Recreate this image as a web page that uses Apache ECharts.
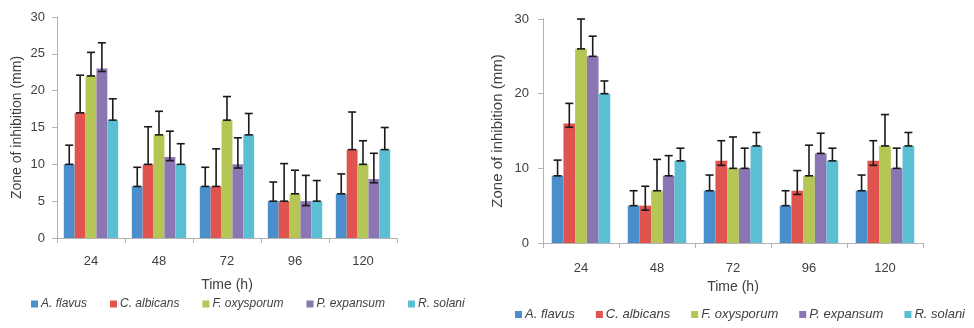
<!DOCTYPE html>
<html>
<head>
<meta charset="utf-8">
<script src="https://cdn.jsdelivr.net/npm/echarts@6/dist/echarts.min.js"></script>
<style>
  html, body { margin: 0; padding: 0; background: #fff; }
  #chart { width: 974px; height: 328px; }
</style>
</head>
<body>
<div id="chart"></div>
<script>
// time points
const categories = ['24', '48', '72', '96', '120'];
const species = ['A. flavus', 'C. albicans', 'F. oxysporum', 'P. expansum', 'R. solani'];
const colors = ['#4a8fcc', '#e0544f', '#b5c654', '#8b76b4', '#5bbfd4'];

// left panel: bar heights, error bar top and bottom (one row per species)
const leftValues = [
  [10, 7, 7, 5, 6],
  [17, 10, 7, 5, 12],
  [22, 14, 16, 6, 10],
  [23, 11, 10, 5, 8],
  [16, 10, 14, 5, 12],
];
const leftUpper = [
  [12.6, 9.6, 9.6, 7.6, 8.7],
  [22.1, 15.1, 12.1, 10.1, 17.1],
  [25.2, 17.2, 19.2, 9.2, 13.2],
  [26.5, 14.5, 13.6, 8.5, 11.5],
  [18.9, 12.8, 16.9, 7.8, 15.0],
];
const leftLower = [
  [10, 7, 7, 5, 6],
  [17, 10, 7, 5, 12],
  [22, 14, 16, 6, 10],
  [22.6, 10.5, 9.5, 4.4, 7.5],
  [16, 10, 14, 5, 12],
];

// right panel
const rightValues = [
  [9, 5, 7, 5, 7],
  [16, 5, 11, 7, 11],
  [26, 7, 10, 9, 13],
  [25, 9, 10, 12, 10],
  [20, 11, 13, 11, 13],
];
const rightUpper = [
  [11.1, 7.0, 9.1, 7.0, 9.1],
  [18.7, 7.6, 13.7, 9.7, 13.7],
  [30, 11.2, 14.2, 13.1, 17.2],
  [27.7, 11.7, 12.7, 14.7, 12.7],
  [21.7, 12.7, 14.8, 12.7, 14.8],
];
const rightLower = [
  [9, 5, 7, 5, 7],
  [15.5, 4.4, 10.4, 6.5, 10.4],
  [26, 7, 10, 9, 13],
  [25, 9, 10, 12, 10],
  [20, 11, 13, 11, 13],
];

const FONT = 'Liberation Sans';
const TEXT = '#404040';
const AXIS = '#b3b3b3';

// error bars drawn at the position of the matching bar in its group
function errorRenderer(seriesPos, gapRatio) {
  return function (params, api) {
    const cat = api.value(0);
    const lo = api.coord([cat, api.value(1)]);
    const hi = api.coord([cat, api.value(2)]);
    const catW = api.size([1, 0])[0];
    const groupW = catW * (1 - gapRatio);
    const barW = groupW / species.length;
    const x = lo[0] - groupW / 2 + barW * (seriesPos + 0.5);
    const cap = 4;
    const style = { stroke: '#1a1a1a', lineWidth: 1.6 };
    return {
      type: 'group',
      children: [
        { type: 'line', shape: { x1: x, y1: lo[1], x2: x, y2: hi[1] }, style },
        { type: 'line', shape: { x1: x - cap, y1: hi[1], x2: x + cap, y2: hi[1] }, style },
        { type: 'line', shape: { x1: x - cap, y1: lo[1], x2: x + cap, y2: lo[1] }, style },
      ],
    };
  };
}

function makeSeries(gridIdx, values, upper, lower, gapRatio) {
  const bars = species.map((name, s) => ({
    name,
    type: 'bar',
    xAxisIndex: gridIdx,
    yAxisIndex: gridIdx,
    data: values[s],
    barGap: '0%',
    barCategoryGap: Math.round(gapRatio * 100) + '%',
    itemStyle: { color: colors[s] },
    emphasis: { disabled: true },
  }));
  const errs = species.map((name, s) => ({
    name,
    type: 'custom',
    xAxisIndex: gridIdx,
    yAxisIndex: gridIdx,
    renderItem: errorRenderer(s, gapRatio),
    data: categories.map((c, i) => [i, lower[s][i], upper[s][i]]),
    z: 5,
    silent: true,
  }));
  return [...bars, ...errs];
}

const xAxisBase = (gridIndex, margin, nameGap) => ({
  type: 'category',
  gridIndex,
  data: categories,
  name: 'Time (h)',
  nameLocation: 'middle',
  nameGap,
  nameTextStyle: { color: TEXT, fontFamily: FONT, fontSize: 14 },
  axisLine: { lineStyle: { color: AXIS } },
  axisTick: { show: true, length: 5, lineStyle: { color: AXIS } },
  axisLabel: { color: TEXT, fontFamily: FONT, fontSize: 13, margin },
  splitLine: { show: false },
});

const yAxisBase = (gridIndex, interval, margin, nameGap, nameSize) => ({
  type: 'value',
  gridIndex,
  min: 0,
  max: 30,
  interval,
  name: 'Zone of inhibition (mm)',
  nameLocation: 'middle',
  nameGap,
  nameTextStyle: { color: TEXT, fontFamily: FONT, fontSize: nameSize },
  axisLine: { show: true, lineStyle: { color: AXIS } },
  axisTick: { show: true, length: 5, lineStyle: { color: AXIS } },
  axisLabel: { color: TEXT, fontFamily: FONT, fontSize: 13, margin },
  splitLine: { show: false },
});

const legendBase = (left, top, fontSize, itemGap) => ({
  data: species,
  left,
  top,
  width: 600,
  itemWidth: 7,
  itemHeight: 7,
  itemGap,
  icon: 'rect',
  selectedMode: false,
  textStyle: { color: TEXT, fontFamily: FONT, fontSize, fontStyle: 'italic', padding: [0, 0, 0, -2] },
});

const chart = echarts.init(document.getElementById('chart'));

const option = {
  animation: false,
  backgroundColor: '#fff',
  grid: [
    { left: 57, top: 17, width: 340, height: 221 },
    { left: 543, top: 19, width: 380, height: 224 },
  ],
  xAxis: [xAxisBase(0, 17, 40), xAxisBase(1, 19, 33)],
  yAxis: [yAxisBase(0, 5, 12, 33, 14), yAxisBase(1, 10, 14, 38, 15)],
  legend: [legendBase(26, 293, 12, 23), legendBase(510, 303, 13, 21)],
  series: [
    ...makeSeries(0, leftValues, leftUpper, leftLower, 0.2),
    ...makeSeries(1, rightValues, rightUpper, rightLower, 0.23),
  ],
};

chart.setOption(option);
</script>
</body>
</html>
